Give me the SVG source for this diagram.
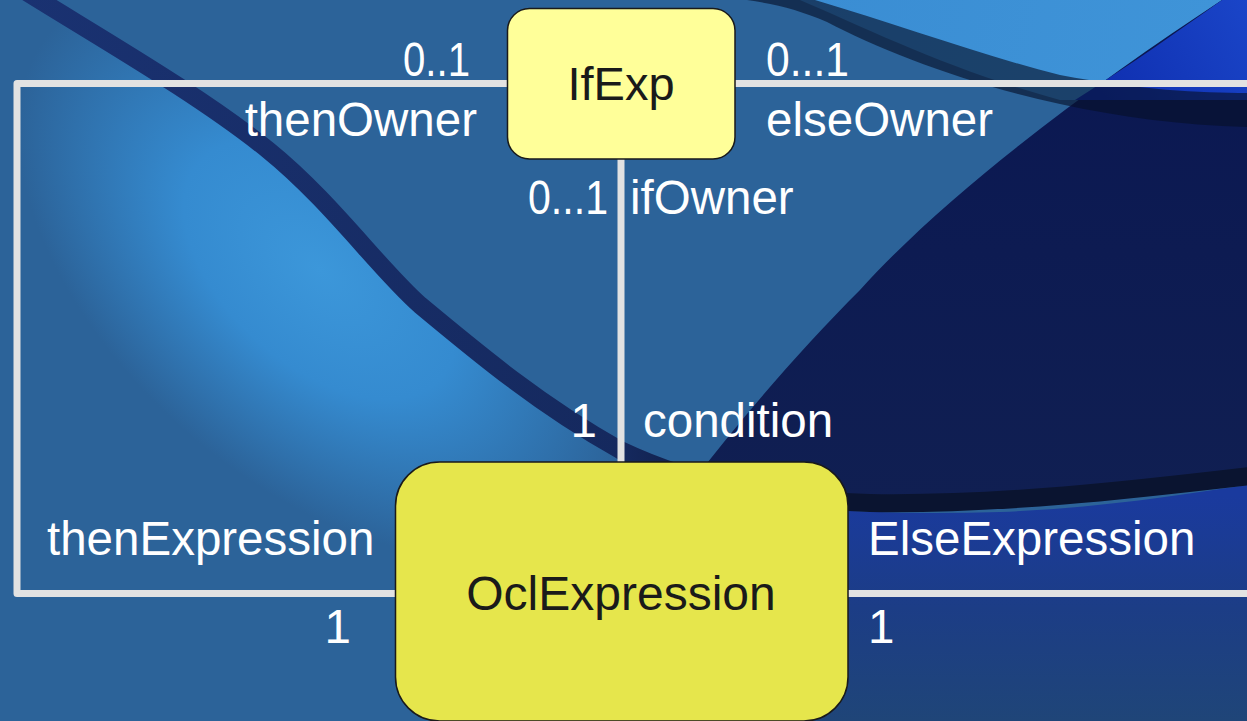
<svg xmlns="http://www.w3.org/2000/svg" width="1247" height="721" viewBox="0 0 1247 721">
  <defs>
    <radialGradient id="glowL" gradientUnits="userSpaceOnUse" cx="0" cy="0" r="1" gradientTransform="translate(320,270) rotate(42) scale(360,210)">
      <stop offset="0" stop-color="#3c97da"/>
      <stop offset="0.45" stop-color="#358bd0"/>
      <stop offset="1" stop-color="#2c6399"/>
    </radialGradient>
    <linearGradient id="lightTR" gradientUnits="userSpaceOnUse" x1="800" y1="0" x2="1200" y2="90">
      <stop offset="0" stop-color="#3a8dd3"/>
      <stop offset="1" stop-color="#3f94d8"/>
    </linearGradient>
    <linearGradient id="royalTR" gradientUnits="userSpaceOnUse" x1="1100" y1="90" x2="1247" y2="0">
      <stop offset="0" stop-color="#0f2fb0"/>
      <stop offset="1" stop-color="#1a45c8"/>
    </linearGradient>
    <linearGradient id="navy" gradientUnits="userSpaceOnUse" x1="0" y1="0" x2="0" y2="500">
      <stop offset="0" stop-color="#0a1752"/>
      <stop offset="1" stop-color="#101f52"/>
    </linearGradient>
    <linearGradient id="lowR" gradientUnits="userSpaceOnUse" x1="0" y1="495" x2="0" y2="721">
      <stop offset="0" stop-color="#1a3a9e"/>
      <stop offset="0.5" stop-color="#1c3d86"/>
      <stop offset="1" stop-color="#1f4578"/>
    </linearGradient>
    <linearGradient id="band1" gradientUnits="userSpaceOnUse" x1="0" y1="0" x2="1247" y2="0">
      <stop offset="0" stop-color="#1a3272"/>
      <stop offset="0.5" stop-color="#15295e"/>
      <stop offset="0.62" stop-color="#0a1430"/>
      <stop offset="1" stop-color="#0a1430"/>
    </linearGradient>
    <style>
      .conn { fill: none; stroke: #e2e2e2; stroke-width: 7; stroke-linejoin: round; }
      .node rect { stroke: #1a1a1a; stroke-width: 1.5; }
      .nlabel { font-family: "Liberation Sans", Arial, sans-serif; fill: #1a1a1a; text-anchor: middle; }
      .lbl { font-family: "Liberation Sans", Arial, sans-serif; font-size: 47.5px; fill: #ffffff; }
      .end { text-anchor: end; }
    </style>
  </defs>

  <!-- background -->
  <g id="background">
    <rect width="1247" height="721" fill="#2c6399"/>
    <path d="M0,0 L30,0 C100,38 200,95 268,150 C330,200 380,270 420,305 C480,355 540,405 640,455 L640,721 L0,721 Z" fill="url(#glowL)"/>
    <path d="M800,0 L1222,0 C1180,30 1130,65 1085,100 L1060,100 C950,70 870,30 800,0 Z" fill="url(#lightTR)"/>
    <path d="M1222,0 L1247,0 L1247,485 C1130,495 1000,510 870,508 C800,507 740,500 690,485 C740,420 800,350 860,290 C950,190 1100,80 1222,0 Z" fill="url(#navy)"/>
    <path d="M1222,0 L1247,0 L1247,100 L1075,100 C1130,65 1180,30 1222,0 Z" fill="url(#royalTR)"/>
    <path d="M700,495 C800,512 900,515 1000,512 C1100,508 1180,495 1247,485 L1247,721 L700,721 Z" fill="url(#lowR)"/>
    <path d="M815,0 C900,25 980,55 1060,75 C1140,90 1200,93 1247,93 L1247,127 C1180,125 1120,117 1060,104 C970,85 880,50 827,22 C800,10 775,4 747,0 Z" fill="#061028" opacity="0.62"/>
    <path d="M20,-12 C100,38 200,95 268,150 C330,200 380,270 420,305 C480,355 540,405 620,450 C700,488 780,500 870,503 C1000,505 1130,490 1250,476" fill="none" stroke="url(#band1)" stroke-width="18"/>
  </g>

  <!-- connectors -->
  <g id="connectors">
    <path class="conn" d="M507,83.5 L17,83.5 L17,593.5 L395,593.5"/>
    <path class="conn" d="M735,83.5 L1250,83.5"/>
    <path class="conn" d="M848,593.5 L1250,593.5"/>
    <path class="conn" d="M621,159 L621,462"/>
  </g>

  <!-- connector labels -->
  <g id="labels">
    <text class="lbl" x="403" y="76" textLength="67" lengthAdjust="spacingAndGlyphs">0..1</text>
    <text class="lbl end" x="477" y="136">thenOwner</text>
    <text class="lbl" x="766" y="76" textLength="83" lengthAdjust="spacingAndGlyphs">0...1</text>
    <text class="lbl" x="766" y="136">elseOwner</text>
    <text class="lbl" x="528" y="214" textLength="80" lengthAdjust="spacingAndGlyphs">0...1</text>
    <text class="lbl" x="630" y="214">ifOwner</text>
    <text class="lbl end" x="597" y="437">1</text>
    <text class="lbl" x="643" y="437">condition</text>
    <text class="lbl" x="47" y="555">thenExpression</text>
    <text class="lbl end" x="351" y="643">1</text>
    <text class="lbl" x="868" y="555">ElseExpression</text>
    <text class="lbl" x="868" y="643">1</text>
  </g>

  <!-- nodes -->
  <g id="IfExp" class="node">
    <rect x="507.5" y="8.5" width="227.5" height="150.5" rx="22" ry="22" fill="#ffff99"/>
    <text class="nlabel" x="621" y="100" font-size="47">IfExp</text>
  </g>
  <g id="OclExpression" class="node">
    <rect x="395.5" y="462" width="452.5" height="259" rx="44" ry="44" fill="#e6e64c"/>
    <text class="nlabel" x="621" y="610" font-size="48">OclExpression</text>
  </g>
</svg>
